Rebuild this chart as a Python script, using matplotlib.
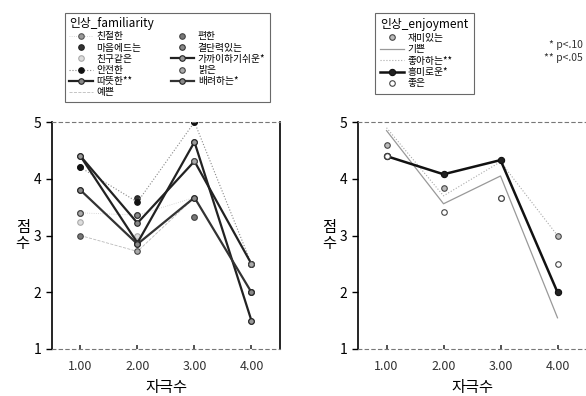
import matplotlib
matplotlib.use("Agg")
import matplotlib.pyplot as plt
import numpy as np

plt.rcParams['font.family'] = ['Noto Sans CJK KR', 'DejaVu Sans']

x_vals = [1, 2, 3, 4]
x_ticklabels = ['1.00', '2.00', '3.00', '4.00']
y_ticks = [1, 2, 3, 4, 5]

fam_names = ['친절한', '마음에드는', '친구같은', '안전한', '따뜻한**', '예쁜',
             '편한', '결단력있는', '가까이하기쉬운*', '밝은', '배려하는*']
fam_values = [
    [3.40, 3.36, 3.67, 2.00],
    [4.20, 3.66, 5.00, 2.50],
    [3.23, 3.00, 3.33, 2.00],
    [4.20, 3.59, 5.00, 2.50],
    [4.40, 3.22, 4.31, 2.50],
    [3.00, 2.72, 3.67, 2.00],
    [3.00, 2.85, 3.33, 1.50],
    [3.80, 3.36, 4.65, 2.00],
    [4.40, 2.87, 4.65, 1.50],
    [3.40, 2.72, 4.31, 2.50],
    [3.80, 2.85, 3.67, 2.00],
]

enj_names = ['재미있는', '기쁜', '좋아하는**', '흥미로운*', '좋은']
enj_values = [
    [4.60, 3.84, 3.67, 3.00],
    [4.85, 3.56, 4.05, 1.55],
    [4.90, 3.70, 4.30, 3.00],
    [4.40, 4.08, 4.33, 2.00],
    [4.40, 3.42, 3.67, 2.50],
]

# styles: (linestyle, linewidth, color, marker, mfc, mec, ms)
fam_styles = [
    (':', 0.6, '#cccccc', 'o', '#999999', '#555555', 4),
    ('none', 0.0, '#333333', 'o', '#333333', '#222222', 4),
    ('none', 0.0, '#bbbbbb', 'o', '#dddddd', '#aaaaaa', 4),
    (':', 0.8, '#888888', 'o', '#111111', '#111111', 4),
    ('-', 1.6, '#222222', 'o', '#888888', '#222222', 4),
    ('--', 0.6, '#bbbbbb', 'None', 'none', 'none', 0),
    ('none', 0.0, '#777777', 'o', '#777777', '#444444', 4),
    ('none', 0.0, '#555555', 'o', '#888888', '#333333', 4),
    ('-', 1.6, '#222222', 'o', '#999999', '#222222', 4),
    ('none', 0.0, '#666666', 'o', '#aaaaaa', '#444444', 4),
    ('-', 1.6, '#333333', 'o', '#888888', '#222222', 4),
]

enj_styles = [
    ('none', 0.0, '#666666', 'o', '#bbbbbb', '#444444', 4),
    ('-', 0.9, '#999999', 'None', 'none', 'none', 0),
    (':', 0.8, '#aaaaaa', 'None', 'none', 'none', 0),
    ('-', 1.8, '#111111', 'o', '#222222', '#111111', 4.5),
    ('none', 0.0, '#555555', 'o', 'white', '#444444', 4),
]

fig = plt.figure(figsize=(5.86, 3.96), dpi=100)
axL = fig.add_axes([0.0887, 0.1187, 0.389, 0.573])
axR = fig.add_axes([0.611, 0.1187, 0.389, 0.573])


def draw(ax, names, values, styles):
    handles = []
    for name, vals, st in zip(names, values, styles):
        ls, lw, col, mk, mfc, mec, ms = st
        h, = ax.plot(x_vals, vals, linestyle=ls if ls != 'none' else 'None',
                     linewidth=lw, color=col, marker=mk, markerfacecolor=mfc,
                     markeredgecolor=mec, markersize=ms, markeredgewidth=0.8,
                     label=name)
        handles.append(h)
    ax.set_xlim(0.5, 4.5)
    ax.set_ylim(1, 5)
    ax.set_xticks(x_vals)
    ax.set_xticklabels(x_ticklabels, fontsize=9, color='#333333')
    ax.set_yticks(y_ticks)
    ax.set_yticklabels([str(v) for v in y_ticks], fontsize=10)
    ax.tick_params(axis='x', direction='in', length=3, width=1.2, pad=8,
                   color='#333333')
    ax.tick_params(axis='y', direction='out', length=4, width=1)
    ax.spines['left'].set_linewidth(1.2)
    for s in ('top', 'bottom'):
        ax.spines[s].set_linestyle((0, (3, 3)))
        ax.spines[s].set_linewidth(0.8)
        ax.spines[s].set_color('#777777')
    ax.set_xlabel('자극수', fontsize=11, labelpad=4)
    ax.set_ylabel('점\n수', fontsize=11, rotation=0, va='center', labelpad=8,
                  linespacing=0.9)
    return handles


hL = draw(axL, fam_names, fam_values, fam_styles)
axL.spines['right'].set_linewidth(1.2)
hR = draw(axR, enj_names, enj_values, enj_styles)
axR.spines['right'].set_visible(False)

legL = fig.legend(handles=hL, loc='upper left', bbox_to_anchor=(60 / 586, 1 - 8 / 396),
                  ncol=2, fontsize=7, title='인상_familiarity', title_fontsize=8.5,
                  frameon=True, fancybox=False, edgecolor='#444444',
                  handlelength=2.4, handletextpad=0.4, labelspacing=0.12,
                  columnspacing=3.0, borderpad=0.45)
legL._legend_box.align = 'left'
legL.get_frame().set_linewidth(0.8)

legR = fig.legend(handles=hR, loc='upper left', bbox_to_anchor=(370 / 586, 1 - 8 / 396),
                  ncol=1, fontsize=7, title='인상_enjoyment', title_fontsize=8.5,
                  frameon=True, fancybox=False, edgecolor='#444444',
                  handlelength=2.4, handletextpad=0.4, labelspacing=0.15,
                  borderpad=0.55)
legR._legend_box.align = 'left'
legR.get_frame().set_linewidth(0.8)

fig.text(583 / 586, 1 - 45 / 396, '* p<.10', ha='right', va='center', fontsize=7.5,
         color='#333333')
fig.text(583 / 586, 1 - 58 / 396, '** p<.05', ha='right', va='center', fontsize=7.5,
         color='#333333')

fig.savefig('out.png', dpi=100)
